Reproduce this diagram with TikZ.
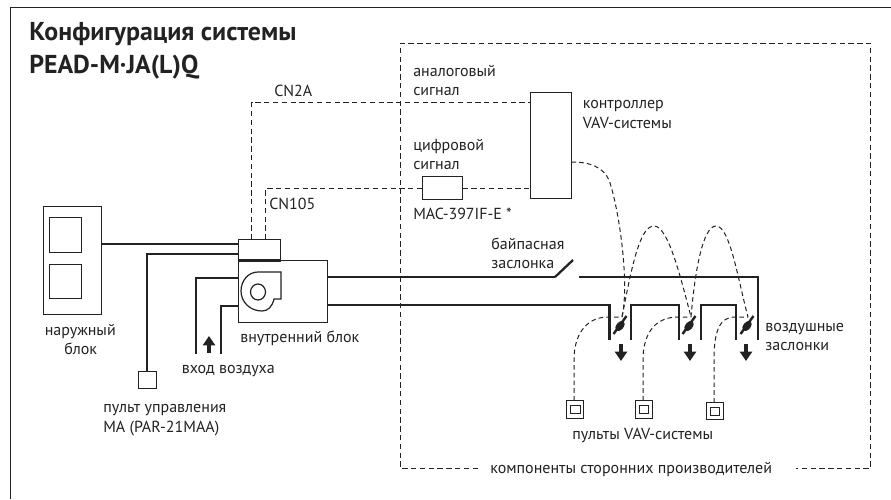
\documentclass[tikz,border=0pt]{standalone}
\usepackage{fontspec}
\setmainfont{PT Sans}
\usetikzlibrary{arrows.meta,shapes.geometric}
\definecolor{ink}{HTML}{222222}
\tikzset{
  heavy/.style={draw=ink,line width=2.1pt},
  thin line/.style={draw=ink,line width=0.9pt},
  frame/.style={draw=ink,line width=1.1pt},
  dashline/.style={draw=ink,line width=0.8pt,dash pattern=on 4pt off 2.6pt},
  curvedash/.style={draw=ink,line width=0.75pt,dash pattern=on 3.4pt off 2.4pt},
  lab/.style={text=ink,font=\fontsize{12pt}{14pt}\selectfont,inner sep=0pt,anchor=base west},
  titlelab/.style={text=ink,font=\fontsize{19.4pt}{22pt}\selectfont\bfseries,inner sep=0pt,anchor=base west},
  flow/.style={draw=ink,line width=3.6pt,-{Triangle[width=9pt,length=7pt]}},
  blade/.style={draw=ink,line width=1.8pt},
  hub/.style={fill=ink,draw=none,ellipse,minimum width=9pt,minimum height=5.4pt,inner sep=0pt},
  unit/.style={draw=ink,line width=0.85pt,fill=white,inner sep=0pt,outer sep=0pt}
}
\newcommand{\boxat}[5]{\node[unit,minimum width={(#4-#2)*0.75pt},minimum height={(#5-#3)*0.75pt}] (#1) at ({(#2+#4)/2},{(#3+#5)/2}) {};}
\begin{document}
\begin{tikzpicture}[x=0.75pt,y=-0.75pt]
\useasboundingbox (0,0) rectangle (891,499);
% outer frame
\draw[frame] (10.5,499) -- (10.5,7.5) -- (891,7.5);
% third party region
\draw[dashline] (478,468.5) -- (400.5,468.5) -- (400.5,43.5) -- (870.5,43.5) -- (870.5,468.5) -- (796,468.5);
% boxes
\boxat{outdoor}{43.5}{206.5}{101.5}{314.5}
\boxat{outa}{49.5}{217.5}{81.5}{252.5}
\boxat{outb}{49.5}{264.5}{81.5}{298.5}
\boxat{cbox}{238.5}{239.5}{280.5}{260.5}
\boxat{indoor}{238.5}{260.5}{327.5}{322.5}
\boxat{pult}{138.5}{371.5}{156.5}{388.5}
\boxat{ctrl}{530.5}{92.5}{571.5}{198.5}
\boxat{mac}{422.5}{176.5}{462.5}{199.5}
\boxat{va}{566.5}{400.5}{583.5}{418.5}
\boxat{vb}{635.5}{400.5}{652.5}{418.5}
\boxat{vc}{706.5}{402.5}{723.5}{419.5}
\boxat{via}{570.5}{405.5}{580.5}{413.5}
\boxat{vib}{639.5}{405.5}{648.5}{413.5}
\boxat{vic}{710.5}{407.5}{719.5}{415.5}
% wiring
\coordinate (wa) at (238.5,244);
\coordinate (wb) at (238.5,254);
\coordinate (cna) at (251.5,239.5);
\coordinate (cnb) at (265.5,239.5);
\coordinate (ana) at (530.5,102.5);
\coordinate (maca) at (422.5,188.5);
\coordinate (macb) at (462.5,188.5);
\draw[heavy,line width=1.6pt] (outdoor.east |- wa) -- (wa);
\draw[heavy,line width=1.9pt] (wb) -- (147,254) -- (147,371.5);
\draw[heavy,line width=1.6pt] (cbox.south west) -- (cbox.south east);
\draw[dashline] (cna) -- (251.5,102.5) -- (ana);
\draw[dashline] (cnb) -- (265.5,188.5) -- (maca);
\draw[dashline] (macb) -- (ctrl.west |- macb);
% fan
\draw[thin line] (281,272) -- (258,272) .. controls (248,272) and (241,281) .. (241,291)
  .. controls (241,302) and (250,311) .. (262,311) .. controls (268,311) and (272,307) .. (274,299) -- (281,299) -- cycle;
\draw[thin line] (258,292) ellipse [x radius=7.5,y radius=8];
% ducts
\draw[heavy] (196,354) -- (196,278) -- (238.5,278);
\draw[heavy] (221,354) -- (221,306) -- (238.5,306);
\coordinate (ductup) at (327.5,277);
\coordinate (ductlo) at (327.5,305);
\draw[heavy] (ductup) -- (555,277);
\draw[heavy,line width=1.7pt] (555,277) -- (573,260);
\draw[heavy] (579,277) -- (758,277) -- (758,340);
\draw[heavy] (ductlo) -- (609.5,305) -- (609.5,340);
\draw[heavy] (631,340) -- (631,305) -- (679,305) -- (679,340);
\draw[heavy] (701,340) -- (701,305) -- (736,305) -- (736,340);
% arrows
\draw[flow] (209,353) -- (209,336);
\draw[flow] (621,344) -- (621,361);
\draw[flow] (690,344) -- (690,361);
\draw[flow] (746,344) -- (746,361);
% dampers
\foreach \nm/\cx in {da/620,db/689,dc/747}{
  \node[hub,rotate=50] (\nm) at (\cx,326) {};
  \draw[blade] (\cx-6.5,334) -- (\cx+6.5,316);
}
% control curves
\coordinate (dta) at (622,317);
\coordinate (dtb) at (691,317);
\coordinate (dtc) at (748,317);
\draw[curvedash] (ctrl.east |- 0,162) .. controls (590,162) and (603,167) .. (609,180)
  .. controls (618,205) and (630,280) .. (dta);
\draw[curvedash] (dta) .. controls (632,265) and (640,226) .. (654,226)
  .. controls (668,226) and (680,275) .. (dtb);
\draw[curvedash] (dtb) .. controls (695,270) and (703,226) .. (716,226)
  .. controls (730,226) and (738,280) .. (dtc);
\draw[curvedash] (va.north -| 574,0) -- (574,360) .. controls (574,330) and (590,317) .. (608,317) -- (dta);
\draw[curvedash] (vb.north -| 643,0) -- (643,360) .. controls (643,330) and (658,317) .. (678,317) -- (dtb);
\draw[curvedash] (vc.north -| 714,0) -- (714,360) .. controls (714,330) and (720,317) .. (735,317) -- (dtc);
% texts
\node[titlelab] (t1) at (29,41) {Конфигурация системы};
\node[titlelab] (t2) at (29,74) {PEAD-M·JA(L)Q};
\node[lab] (l1) at (274,97) {CN2A};
\node[lab] (l2) at (269,209) {CN105};
\node[lab] (l3) at (413,77) {аналоговый};
\node[lab] (l4) at (413,96) {сигнал};
\node[lab] (l5) at (582.5,109) {контроллер};
\node[lab] (l6) at (582.5,128) {VAV-системы};
\node[lab] (l7) at (413,151) {цифровой};
\node[lab] (l8) at (413,170) {сигнал};
\node[lab] (l9) at (413,219) {MAC-397IF-E *};
\node[lab] (l10) at (491,249) {байпасная};
\node[lab] (l11) at (491,268) {заслонка};
\node[lab] (l12) at (765,331) {воздушные};
\node[lab] (l13) at (765,350) {заслонки};
\node[lab] (l14) at (572,439) {пульты VAV-системы};
\node[lab] (l15) at (490,473) {компоненты сторонних производителей};
\node[lab] (l16) at (44.5,335) {наружный};
\node[lab] (l17) at (64,354) {блок};
\node[lab] (l18) at (240,342) {внутренний блок};
\node[lab] (l19) at (181.5,373) {вход воздуха};
\node[lab] (l20) at (103,412) {пульт управления};
\node[lab] (l21) at (103,432) {MA (PAR-21MAA)};
\end{tikzpicture}
\end{document}
